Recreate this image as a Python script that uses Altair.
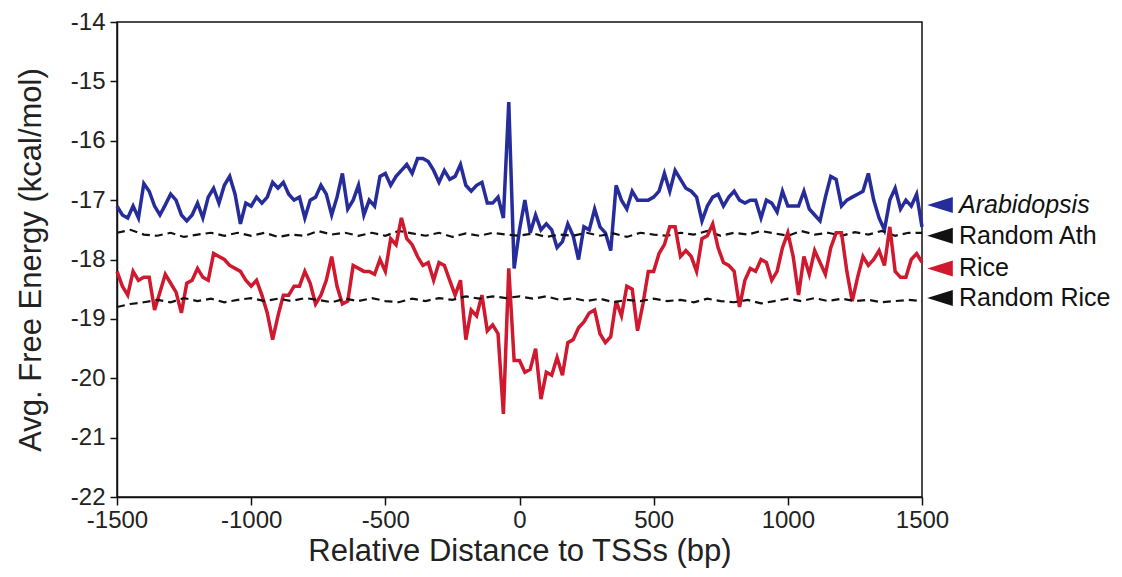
import altair as alt
import pandas as pd

# Position relative to the TSS (bp), 20 bp bins for the observed profiles
positions = list(range(-1500, 1501, 20))

arabidopsis = [
    -17.1, -17.25, -17.3, -17.1, -17.3, -16.72, -16.85, -17.1, -17.25, -17.08,
    -16.9, -17.0, -17.25, -17.35, -17.25, -17.05, -17.3, -16.95, -16.8, -17.05,
    -16.75, -16.6, -16.9, -17.4, -17.05, -17.1, -16.95, -17.05, -16.95, -16.7, -16.8,
    -16.7, -16.9, -17.0, -16.95, -17.3, -17.0, -16.95, -16.75, -16.9, -17.25,
    -16.95, -16.55, -17.15, -17.0, -16.75, -17.25, -17.0, -17.1, -16.6, -16.55,
    -16.75, -16.6, -16.5, -16.4, -16.55, -16.3, -16.3, -16.35, -16.5,
    -16.7, -16.5, -16.65, -16.6, -16.4, -16.75, -16.85, -16.75, -16.7, -17.05,
    -17.05, -16.95, -17.3, -15.35, -18.15,
    -17.5, -17.0, -17.55, -17.25, -17.5, -17.4, -17.5, -17.8, -17.7, -17.4,
    -17.6, -18.0, -17.45, -17.5,
    -17.15, -17.45, -17.55, -17.85, -16.75, -17.0, -17.15, -16.85, -17.0, -17.0,
    -17.0, -16.95, -16.85, -16.55, -16.85, -16.5, -16.65, -16.8, -16.85, -16.95,
    -17.35, -17.1, -16.95, -16.9, -17.1, -16.95, -16.85, -17.0, -17.05, -17.0,
    -17.0, -17.3, -17.0, -17.05, -17.2, -16.85, -17.1, -17.1, -17.1, -16.85,
    -17.15, -17.25, -17.35, -16.95, -16.6, -16.65, -17.1, -17.0, -16.95, -16.9,
    -16.85, -16.55, -17.0, -17.3, -17.5, -17.0, -16.8, -17.15, -17.0, -17.1,
    -16.9, -17.45,
]

rice = [
    -18.2, -18.45, -18.6, -18.2, -18.35, -18.3, -18.3, -18.85, -18.55, -18.25,
    -18.4, -18.55, -18.9, -18.4, -18.35, -18.15, -18.3, -18.35, -17.9, -17.95,
    -18.0, -18.1, -18.15, -18.2, -18.35, -18.45, -18.35, -18.6, -18.9, -19.35, -18.95,
    -18.6, -18.6, -18.45, -18.45, -18.2, -18.4, -18.75, -18.6, -18.35, -17.95,
    -18.45, -18.75, -18.7, -18.1, -18.15, -18.2, -18.2, -18.25, -18.0, -18.2,
    -17.65, -17.75, -17.3, -17.65, -17.75, -17.95, -18.1, -18.05, -18.35,
    -18.05, -18.1, -18.35, -18.6, -18.35, -19.35, -18.85, -18.95, -18.6, -19.2,
    -19.1, -19.25, -20.6, -18.15, -19.7,
    -19.7, -19.9, -19.85, -19.5, -20.35, -19.9, -19.95, -19.65, -19.95, -19.4,
    -19.35, -19.15, -19.05, -18.9,
    -18.85, -19.25, -19.4, -19.3, -18.7, -18.95, -18.45, -18.5, -19.2, -18.75,
    -18.2, -18.2, -17.9, -17.75, -17.45, -17.45, -17.95, -17.85, -17.95, -18.2,
    -17.65, -17.6, -17.4, -17.8, -18.05, -18.1, -18.2, -18.8, -18.35, -18.15,
    -18.2, -18.0, -18.05, -18.35, -18.2, -17.8, -17.55, -17.95, -18.6, -17.95,
    -18.25, -17.85, -18.05, -18.25, -17.8, -17.55, -17.55, -18.2, -18.7, -18.3,
    -17.95, -18.1, -18.0, -17.85, -18.1, -17.45, -18.2, -18.3, -18.3, -18.0,
    -17.9, -18.05,
]

# Shuffled-sequence controls, 50 bp bins
random_positions = list(range(-1500, 1501, 50))

random_ath = [
    -17.55, -17.5, -17.58, -17.6, -17.55, -17.62, -17.58, -17.55, -17.6, -17.55, -17.6,
    -17.55, -17.62, -17.58, -17.6, -17.52, -17.58, -17.55, -17.6, -17.55, -17.6,
    -17.52, -17.56, -17.6, -17.55, -17.62, -17.56, -17.6, -17.55, -17.58, -17.6,
    -17.56, -17.62, -17.58, -17.6, -17.55, -17.6, -17.56, -17.62, -17.55, -17.58,
    -17.6, -17.55, -17.58, -17.52, -17.6, -17.55, -17.58, -17.52, -17.56, -17.6,
    -17.52, -17.58, -17.55, -17.6, -17.54, -17.58, -17.52, -17.6, -17.55, -17.55,
]

random_rice = [
    -18.8, -18.75, -18.72, -18.68, -18.72, -18.65, -18.7, -18.66, -18.72, -18.68, -18.65,
    -18.7, -18.66, -18.7, -18.65, -18.68, -18.72, -18.66, -18.7, -18.65, -18.7,
    -18.72, -18.66, -18.7, -18.65, -18.68, -18.62, -18.66, -18.62, -18.65, -18.62,
    -18.66, -18.62, -18.68, -18.65, -18.7, -18.66, -18.72, -18.68, -18.7, -18.66,
    -18.7, -18.68, -18.72, -18.66, -18.7, -18.72, -18.68, -18.74, -18.7, -18.66,
    -18.7, -18.65, -18.7, -18.66, -18.7, -18.68, -18.72, -18.7, -18.68, -18.7,
]

# Right-hand series labels, placed at each series' level
label_names = ["Arabidopsis", "Random Ath", "Rice", "Random Rice"]
label_levels = [-17.08, -17.6, -18.15, -18.65]
label_colors = ["#262c9a", "#111111", "#d0182e", "#111111"]

BLUE = "#262c9a"
RED = "#d0182e"
W, H = 805, 475
FONT = "Liberation Sans"

obs_ath = pd.DataFrame({"pos": positions, "energy": arabidopsis})
obs_rice = pd.DataFrame({"pos": positions, "energy": rice})
ctl_ath = pd.DataFrame({"pos": random_positions, "energy": random_ath})
ctl_rice = pd.DataFrame({"pos": random_positions, "energy": random_rice})
labels = pd.DataFrame({"name": label_names, "level": label_levels, "color": label_colors})

x_enc = alt.X(
    "pos:Q",
    scale=alt.Scale(domain=[-1500, 1500], nice=False),
    axis=alt.Axis(
        title="Relative Distance to TSSs (bp)",
        values=[-1500, -1000, -500, 0, 500, 1000, 1500],
        labelExpr="datum.value + ''",
        labelFlush=False,
        grid=False,
        tickSize=8,
        labelPadding=3,
        titleY=54,
        titleBaseline="middle",
    ),
)
y_enc = alt.Y(
    "energy:Q",
    scale=alt.Scale(domain=[-22, -14], nice=False),
    axis=alt.Axis(
        title="Avg. Free Energy (kcal/mol)",
        values=list(range(-22, -13)),
        labelExpr="datum.value + ''",
        labelFlush=False,
        grid=False,
        tickSize=7,
        labelPadding=5,
        titleX=-86,
        titleBaseline="middle",
    ),
)

line_ath = alt.Chart(obs_ath).mark_line(color=BLUE, strokeWidth=3.5).encode(x=x_enc, y=y_enc)
line_ctl_ath = alt.Chart(ctl_ath).mark_line(
    color="#111111", strokeWidth=2.2, strokeDash=[8, 5]
).encode(x="pos:Q", y="energy:Q")
line_rice = alt.Chart(obs_rice).mark_line(color=RED, strokeWidth=3.5).encode(x="pos:Q", y="energy:Q")
line_ctl_rice = alt.Chart(ctl_rice).mark_line(
    color="#111111", strokeWidth=2.2, strokeDash=[8, 5]
).encode(x="pos:Q", y="energy:Q")

arrows = alt.Chart(labels).mark_point(
    shape="M-1.6,0L1.6,-1L1.6,1Z", filled=True, opacity=1, size=256, clip=False
).encode(
    x=alt.value(W + 18),
    y="level:Q",
    color=alt.Color("color:N", scale=None),
)

label_text = alt.Chart(labels).mark_text(
    align="left", baseline="middle", font=FONT, fontSize=25, color="#111111", clip=False
).encode(
    x=alt.value(W + 37),
    y="level:Q",
    text="name:N",
)
label_upright = label_text.transform_filter(alt.datum.name != "Arabidopsis")
label_italic = label_text.mark_text(
    align="left", baseline="middle", font=FONT, fontSize=25, fontStyle="italic",
    color="#111111", clip=False
).transform_filter(alt.datum.name == "Arabidopsis")

chart = alt.layer(
    line_ath, line_ctl_ath, line_rice, line_ctl_rice, arrows, label_upright, label_italic
).properties(
    width=W,
    height=H,
    autosize=alt.AutoSizeParams(type="none"),
    padding={"left": 117, "top": 22, "right": 200, "bottom": 80},
    background="white",
).configure_view(
    stroke="#111111", strokeWidth=1.5
).configure_axis(
    domainColor="#111111",
    domainWidth=1.5,
    tickColor="#111111",
    tickWidth=1.5,
    labelFont=FONT,
    labelFontSize=24,
    labelColor="#222222",
    titleFont=FONT,
    titleFontSize=31,
    titleFontWeight="normal",
    titleColor="#222222",
)

chart.save("out.html", embed_options={"renderer": "svg", "actions": False})
